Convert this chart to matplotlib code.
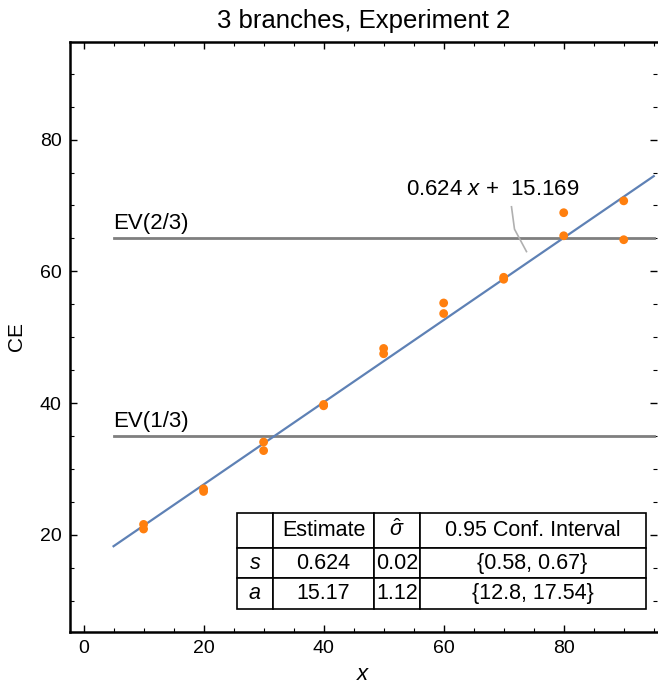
import numpy as np
import matplotlib.pyplot as plt
from matplotlib.ticker import MultipleLocator

plt.rcParams['font.family'] = ['Liberation Sans', 'DejaVu Sans']
plt.rcParams['mathtext.fontset'] = 'custom'
plt.rcParams['mathtext.it'] = 'Liberation Sans:italic'
plt.rcParams['mathtext.rm'] = 'Liberation Sans'

# observed certainty equivalents
x_obs = [10, 10, 20, 20, 30, 30, 40, 40, 50, 50, 60, 60, 70, 70, 80, 80, 90, 90]
ce_obs = [21.6, 20.9, 27.0, 26.6, 34.1, 32.8, 39.8, 39.6, 48.3, 47.5,
          55.2, 53.6, 59.1, 58.8, 68.9, 65.4, 70.7, 64.8]

slope = 0.624
intercept = 15.169
fit_range = [5, 95]
ev_levels = [35, 65]
ev_labels = ['EV(1/3)', 'EV(2/3)']

col_labels = ['', 'Estimate', r'$\hat{\sigma}$', '0.95 Conf. Interval']
row_params = ['$s$', '$a$']
estimates = ['0.624', '15.17']
sigmas = ['0.02', '1.12']
conf_int = ['{0.58, 0.67}', '{12.8, 17.54}']

fig = plt.figure(figsize=(6.58, 6.89), dpi=100)
ax = fig.add_axes([0.106, 0.083, 0.893, 0.856])

xs = np.array(fit_range)
ax.plot(xs, slope * xs + intercept, color='#5E81B5', lw=1.6, zorder=3)
for lvl, lab in zip(ev_levels, ev_labels):
    ax.plot(fit_range, [lvl, lvl], color='#7F7F7F', lw=2, zorder=2)
    ax.text(fit_range[0], lvl + 0.6, lab, fontsize=16, ha='left', va='bottom')
ax.scatter(x_obs, ce_obs, s=40, color='#FF7F0E', edgecolors='none', zorder=4)

# fitted line annotation with leader
ax.text(53.7, 72.4, r'0.624 $x$ +  15.169', fontsize=16, ha='left', va='center')
ax.plot([71.3, 71.8, 73.8], [69.8, 66.4, 63.0], color='#B0B0B0', lw=1.2, zorder=3)

ax.set_xlim(-2.3, 95.6)
ax.set_ylim(5.3, 94.8)
ax.xaxis.set_major_locator(MultipleLocator(20))
ax.xaxis.set_minor_locator(MultipleLocator(5))
ax.yaxis.set_major_locator(MultipleLocator(20))
ax.yaxis.set_minor_locator(MultipleLocator(5))
ax.tick_params(which='both', direction='in', top=True, right=True, labelsize=14, pad=6)
ax.tick_params(which='major', length=5, width=1)
ax.tick_params(which='minor', length=3, width=0.8)
for side in ['left', 'bottom', 'top']:
    ax.spines[side].set_linewidth(1.8)
ax.spines['right'].set_visible(False)

ax.set_title('3 branches, Experiment 2', fontsize=18.5, pad=10)
ax.set_ylabel('CE', fontsize=15, labelpad=10)
ax.set_xlabel('$x$', fontsize=16, labelpad=5)

cells = [col_labels]
for p, e, sg, ci in zip(row_params, estimates, sigmas, conf_int):
    cells.append([p, e, sg, ci])
tbl = ax.table(cellText=cells, bbox=[0.284, 0.039, 0.696, 0.163],
               colWidths=[36, 101, 45, 225], cellLoc='center', zorder=6)
tbl.auto_set_font_size(False)
tbl.set_fontsize(15.5)
for (r, c), cell in tbl.get_celld().items():
    cell.set_linewidth(1.2)
    cell.set_facecolor('white')
    if r == 0:
        cell.set_height(0.06)
    else:
        cell.set_height(0.052)

fig.savefig('out.png', dpi=100)
